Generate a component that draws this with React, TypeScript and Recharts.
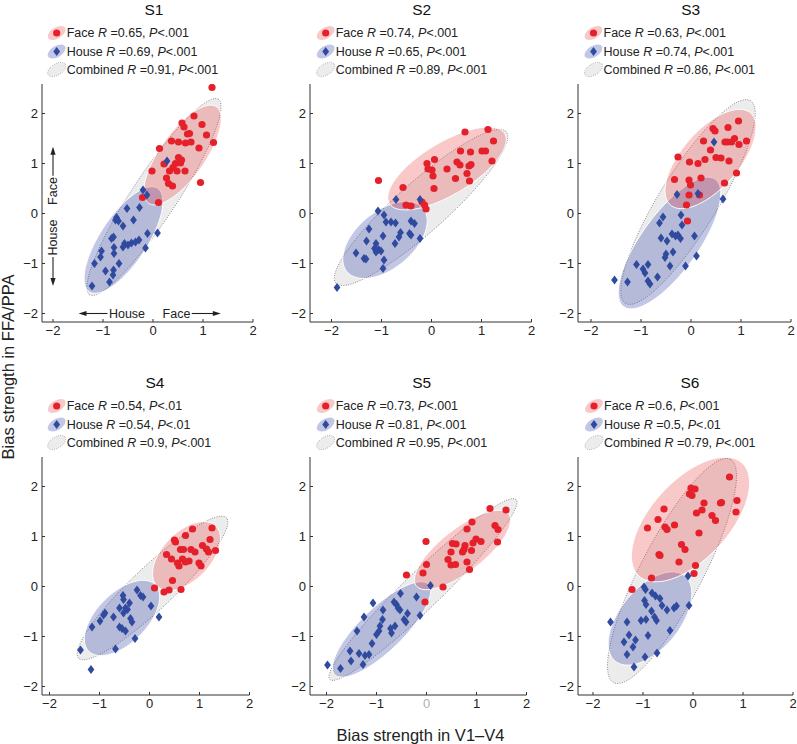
import React from "react";
import { Scatter, ScatterChart, XAxis, YAxis } from "recharts";

// Bias strength per block: [V1–V4, FFA/PPA]
const s1Face = [
  [1.18, 2.52], [0.82, 1.95], [0.58, 1.81], [0.62, 1.73], [0.98, 1.78], [0.73, 1.6], [0.69, 1.59],
  [0.37, 1.45], [0.51, 1.43], [0.65, 1.41], [0.76, 1.43], [1.07, 1.57], [1.21, 1.42], [0.92, 1.31],
  [0.13, 1.3], [0.51, 1.12], [0.55, 1.01], [0.22, 0.99], [0.4, 0.92], [0.33, 0.85], [0.48, 0.85],
  [0.64, 0.85], [-0.02, 0.85], [0.27, 0.71], [0.31, 0.6], [0.39, 0.55], [0.95, 0.62], [-0.21, 0.32],
  [0.11, 0.22], [0.57, 1.07], [0.45, 1.0]
];
const s1House = [
  [0.28, 1.05], [-0.2, 0.47], [-0.12, 0.37], [-0.52, 0.1], [-0.27, 0.12], [-0.73, -0.08], [-0.69, -0.15],
  [-0.75, -0.13], [-0.6, -0.25], [-0.39, -0.13], [-0.11, -0.4], [0.09, -0.39], [-0.83, -0.5], [-0.79, -0.47],
  [-0.57, -0.6], [-0.5, -0.63], [-0.43, -0.59], [-0.35, -0.57], [-0.28, -0.53], [-0.6, -0.67], [-0.78, -0.68],
  [-0.15, -0.69], [-1.03, -0.75], [-1.05, -0.87], [-0.78, -0.8], [-1.17, -1.0], [-0.68, -1.0], [-0.95, -1.15],
  [-0.79, -1.13], [-0.8, -1.23], [-0.87, -1.37], [-1.22, -1.45]
];
const s2Face = [
  [0.67, 1.63], [1.13, 1.68], [1.24, 1.45], [0.58, 1.25], [0.78, 1.23], [1.01, 1.25], [1.08, 1.25],
  [1.21, 1.05], [0.06, 1.08], [-0.09, 1.0], [0.51, 1.03], [0.57, 0.97], [0.79, 0.98], [0.75, 0.95],
  [0.31, 0.89], [-0.07, 0.89], [0.01, 0.87], [0.03, 0.75], [0.71, 0.8], [0.48, 0.7], [0.76, 0.65],
  [-1.06, 0.66], [0.05, 0.5], [-0.57, 0.52], [-0.51, 0.17], [-0.41, 0.15], [-0.19, 0.23], [-0.14, 0.17],
  [-0.11, 0.09]
];
const s2House = [
  [-0.71, 0.28], [-0.23, 0.28], [-1.07, 0.05], [-0.95, -0.03], [-0.81, -0.17], [-0.72, -0.19], [-0.41, -0.15],
  [-0.34, -0.2], [-1.25, -0.31], [-0.62, -0.38], [-0.97, -0.45], [-0.44, -0.4], [-0.41, -0.43], [-0.65, -0.47],
  [-1.3, -0.55], [-0.73, -0.6], [-0.23, -0.5], [-1.11, -0.6], [-1.14, -0.7], [-1.06, -0.72], [-1.01, -0.75],
  [-1.11, -0.77], [-1.51, -0.79], [-1.35, -0.9], [-1.31, -0.91], [-0.95, -0.93], [-0.97, -1.1], [-1.89, -1.48],
  [-0.91, -0.17]
];
const s3Face = [
  [0.95, 1.85], [0.74, 1.72], [0.44, 1.7], [0.48, 1.65], [0.87, 1.5], [0.68, 1.43], [0.73, 1.43],
  [0.81, 1.43], [0.96, 1.38], [1.11, 1.45], [0.25, 1.45], [0.39, 1.27], [0.5, 1.12], [0.6, 1.11],
  [0.76, 1.05], [-0.26, 1.13], [-0.03, 1.03], [0.14, 1.0], [0.28, 1.08], [0.91, 0.81], [0.2, 0.71],
  [-0.33, 0.68], [-0.04, 0.67], [-0.01, 0.57], [0.67, 0.61], [-0.04, 0.37], [0.17, 0.37], [-0.09, 0.17],
  [-0.07, -0.15]
];
const s3House = [
  [0.46, 1.43], [-0.28, 0.38], [0.14, 0.4], [0.64, 0.29], [-0.2, -0.03], [-0.56, -0.07], [-0.63, -0.19],
  [-0.18, -0.23], [-0.38, -0.41], [-0.31, -0.45], [-0.26, -0.43], [-0.21, -0.5], [0.07, -0.45], [-0.6, -0.49],
  [-0.48, -0.55], [-0.36, -0.77], [-0.5, -0.81], [-0.52, -0.88], [-0.42, -1.05], [-0.11, -1.05], [0.11, -0.85],
  [-1.09, -1.02], [-0.86, -1.02], [-0.96, -1.11], [-0.92, -1.19], [-0.67, -1.27], [-0.86, -1.35], [-0.82, -1.41],
  [-1.27, -1.37], [-1.53, -1.33]
];
const s4Face = [
  [0.86, 1.15], [1.25, 1.17], [0.72, 1.02], [0.5, 0.93], [0.52, 0.89], [1.21, 0.94], [1.06, 0.82],
  [0.62, 0.74], [0.68, 0.74], [0.83, 0.74], [0.91, 0.69], [1.14, 0.75], [1.18, 0.69], [1.32, 0.72],
  [0.34, 0.64], [0.44, 0.55], [0.66, 0.55], [0.72, 0.49], [0.79, 0.51], [0.56, 0.47], [0.59, 0.41],
  [0.99, 0.47], [1.03, 0.41], [0.46, 0.12], [0.1, -0.03], [0.29, -0.11], [0.39, -0.07], [0.63, -0.06]
];
const s4House = [
  [-0.25, -0.07], [-0.53, -0.18], [-0.18, -0.18], [-0.13, -0.21], [-0.52, -0.26], [-0.4, -0.33], [0.03, -0.39],
  [-0.6, -0.43], [-0.48, -0.43], [-0.44, -0.46], [-0.89, -0.53], [-0.92, -0.57], [-0.52, -0.53], [-0.72, -0.61],
  [-0.38, -0.64], [-0.35, -0.71], [-0.99, -0.69], [-0.6, -0.81], [-0.55, -0.84], [-0.48, -0.89], [-1.15, -0.81],
  [0.19, -0.61], [-0.29, -1.04], [-0.68, -1.25], [-1.38, -1.27], [-1.17, -1.66]
];
const s5Face = [
  [1.27, 1.56], [1.59, 1.53], [0.91, 1.29], [1.37, 1.22], [1.43, 1.14], [0.81, 1.15], [0.99, 0.95],
  [1.09, 0.9], [0.93, 0.87], [1.42, 0.89], [-0.01, 0.9], [0.52, 0.86], [0.59, 0.85], [0.77, 0.82],
  [0.75, 0.74], [0.9, 0.72], [0.72, 0.69], [0.49, 0.69], [0.43, 0.54], [0.81, 0.49], [0.49, 0.43],
  [0.58, 0.44], [0.86, 0.34], [0.0, 0.44], [-0.07, 0.27], [-0.4, 0.23], [0.33, -0.01], [-0.03, -0.31]
];
const s5House = [
  [0.08, 0.02], [-0.52, -0.14], [-0.2, -0.21], [-1.07, -0.33], [-0.65, -0.31], [-0.6, -0.36], [-0.57, -0.43],
  [-0.38, -0.54], [-0.87, -0.47], [-0.53, -0.47], [-0.13, -0.58], [-1.25, -0.61], [-0.88, -0.66], [-0.45, -0.66],
  [-0.41, -0.71], [-0.63, -0.79], [-0.93, -0.79], [-0.72, -0.84], [-0.7, -0.93], [-0.95, -0.89], [-1.0, -0.96],
  [-1.39, -0.89], [-1.09, -1.14], [-1.53, -1.29], [-1.35, -1.34], [-1.23, -1.38], [-1.15, -1.36], [-1.51, -1.49],
  [-1.27, -1.56], [-1.98, -1.57], [-1.72, -1.64]
];
const s6Face = [
  [0.73, 2.19], [-0.04, 1.97], [0.04, 1.95], [-0.07, 1.85], [-0.02, 1.82], [0.88, 1.72], [0.55, 1.67],
  [0.57, 1.68], [0.22, 1.67], [0.86, 1.49], [0.18, 1.53], [0.07, 1.47], [0.38, 1.42], [0.45, 1.32],
  [-0.58, 1.55], [-0.7, 1.34], [-0.37, 1.23], [-0.56, 1.19], [-0.52, 1.14], [-0.91, 1.17], [0.12, 1.07],
  [-0.23, 0.84], [-0.16, 0.74], [-0.68, 0.64], [-0.66, 0.62], [-0.28, 0.49], [0.05, 0.42], [0.02, 0.26],
  [-0.83, 0.17], [-1.22, -0.06]
];
const s6House = [
  [-0.1, 0.21], [-0.98, -0.01], [-0.95, -0.06], [-0.82, -0.13], [-0.75, -0.19], [-0.66, -0.24], [-0.97, -0.28],
  [-0.94, -0.36], [-0.62, -0.38], [-0.83, -0.49], [-0.52, -0.47], [-0.38, -0.43], [-0.33, -0.39], [-0.08, -0.38],
  [-0.77, -0.61], [-0.73, -0.68], [-1.04, -0.68], [-0.94, -0.66], [-1.32, -0.71], [-1.65, -0.71], [-0.46, -0.88],
  [-0.9, -0.98], [-1.28, -0.97], [-1.15, -1.07], [-1.38, -1.11], [-1.2, -1.21], [-1.32, -1.36], [-0.96, -1.41],
  [-0.72, -1.33], [-1.18, -1.61]
];

// fitted ellipses: [centre x, centre y, semi-major, semi-minor, angle°] for face, house, combined
const s1Ellipses = [[0.59, 1.17, 1.18, 0.45, 54.7], [-0.59, -0.53, 1.24, 0.47, 56.5], [0.02, 0.33, 2.34, 0.45, 56.6]];
const s2Ellipses = [[0.31, 0.9, 1.35, 0.52, 31.2], [-0.93, -0.53, 0.99, 0.57, 39.7], [-0.21, 0.12, 2.28, 0.5, 41.7]];
const s3Ellipses = [[0.39, 1.09, 1.22, 0.57, 48.9], [-0.43, -0.59, 1.57, 0.57, 54.3], [-0.06, 0.23, 2.38, 0.58, 58.3]];
const s4Ellipses = [[0.74, 0.61, 0.84, 0.48, 45.8], [-0.55, -0.63, 0.94, 0.5, 45], [0.06, -0.03, 2.04, 0.42, 43.5]];
const s5Ellipses = [[0.72, 0.73, 1.17, 0.43, 37.8], [-0.9, -0.86, 1.3, 0.43, 44], [-0.07, -0.06, 2.59, 0.37, 44]];
const s6Ellipses = [[-0.05, 1.34, 1.53, 0.78, 47.6], [-0.86, -0.64, 1.1, 0.6, 50.8], [-0.42, 0.31, 2.52, 0.62, 62.4]];

const titles = ["S1", "S2", "S3", "S4", "S5", "S6"];
const faceR = ["0.65", "0.74", "0.63", "0.54", "0.73", "0.6"];
const faceP = [".001", ".001", ".001", ".01", ".001", ".001"];
const houseR = ["0.69", "0.65", "0.74", "0.54", "0.81", "0.5"];
const houseP = [".001", ".001", ".001", ".01", ".001", ".01"];
const combinedR = ["0.91", "0.89", "0.86", "0.9", "0.95", "0.79"];
const combinedP = [".001", ".001", ".001", ".001", ".001", ".001"];
const ticks = [-2, -1, 0, 1, 2];

const FONT = '"Liberation Sans", Arial, Helvetica, sans-serif';
const FACE = "#e5202a";
const HOUSE = "#2f4a9e";
const PPU = 50;
const X_MAX = 2;
const Y_MIN = -2.17;
const Y_MAX = 2.59;
const Y_AXIS_W = 40;
const X_AXIS_H = 25;
const TOP_PAD = 10;

const frames = [
  { left: 41.7, top: 84, xMin: -2.22, titleX: 154, legendX: 66.7, row: 0 },
  { left: 310, top: 84, xMin: -2.43, titleX: 421.7, legendX: 335.7, row: 0 },
  { left: 578.3, top: 84, xMin: -2.26, titleX: 690.7, legendX: 603.5, row: 0 },
  { left: 41.7, top: 457.3, xMin: -2.15, titleX: 155, legendX: 66.7, row: 373 },
  { left: 310, top: 457.3, xMin: -2.33, titleX: 421.7, legendX: 335.7, row: 373 },
  { left: 578.3, top: 457.3, xMin: -2.3, titleX: 690, legendX: 604, row: 373 }
];

const faces = [s1Face, s2Face, s3Face, s4Face, s5Face, s6Face];
const houses = [s1House, s2House, s3House, s4House, s5House, s6House];
const ellipses = [s1Ellipses, s2Ellipses, s3Ellipses, s4Ellipses, s5Ellipses, s6Ellipses];

// direction arrows drawn only in S1
const s1Arrows = [
  { x: -2, y: 0.45, label: "Face", dir: "up" },
  { x: -2, y: -0.48, label: "House", dir: "down" },
  { x: -0.52, y: -2, label: "House", dir: "left" },
  { x: 0.47, y: -2, label: "Face", dir: "right" }
];

const toPoints = (pairs: number[][]) => pairs.map(([x, y]) => ({ x, y }));

function outline([cx, cy, a, b, deg]: number[]) {
  const t = (deg * Math.PI) / 180;
  const pts = [];
  for (let i = 0; i < 120; i += 1) {
    const s = (i / 120) * 2 * Math.PI;
    const ex = a * Math.cos(s);
    const ey = b * Math.sin(s);
    pts.push({ x: cx + ex * Math.cos(t) - ey * Math.sin(t), y: cy + ex * Math.sin(t) + ey * Math.cos(t) });
  }
  return pts;
}

const ellipseStyles = [
  { fill: "#e8262d", opacity: 0.25, stroke: "#ffffff", width: 1, dash: undefined },
  { fill: "#3246aa", opacity: 0.3, stroke: "#ffffff", width: 1, dash: undefined },
  { fill: "#ececec", opacity: 1, stroke: "#555555", width: 0.8, dash: "0.8 1.6" }
];

const closedPath = (style: any) => (props: any) => {
  const pts = props.points || [];
  const d = pts.map((p: any, i: number) => `${i ? "L" : "M"}${p.x},${p.y}`).join("") + "Z";
  return (
    <g>
      <path d={d} fill={style.fill} fillOpacity={style.opacity} stroke="none" />
      <path d={d} fill="none" stroke={style.stroke} strokeWidth={style.width} strokeDasharray={style.dash} />
    </g>
  );
};

const nothing = () => <g />;

const dot = (props: any) => <circle cx={props.cx} cy={props.cy} r={3.6} fill={FACE} />;

const diamond = (props: any) => {
  const { cx, cy } = props;
  return <path d={`M${cx},${cy - 4.4}L${cx + 3.4},${cy}L${cx},${cy + 4.4}L${cx - 3.4},${cy}Z`} fill={HOUSE} />;
};

const arrowMark = (props: any) => {
  const { cx, cy, payload } = props;
  const half = payload.label === "House" ? 17.5 : 13.3;
  const vertical = payload.dir === "up" || payload.dir === "down";
  const sign = payload.dir === "up" || payload.dir === "left" ? -1 : 1;
  const start = half + 2;
  const tip = half + 31;
  if (vertical) {
    const y0 = cy + sign * start;
    const y1 = cy + sign * tip;
    return (
      <g>
        <text x={cx} y={cy} transform={`rotate(-90 ${cx} ${cy})`} textAnchor="middle" dominantBaseline="central" fontSize={12.5} fill="#222" fontFamily={FONT}>
          {payload.label}
        </text>
        <line x1={cx} y1={y0} x2={cx} y2={y1 - sign * 6} stroke="#222" strokeWidth={1.1} />
        <path d={`M${cx},${y1}L${cx - 2.6},${y1 - sign * 8}L${cx + 2.6},${y1 - sign * 8}Z`} fill="#222" />
      </g>
    );
  }
  const x0 = cx + sign * start;
  const x1 = cx + sign * tip;
  return (
    <g>
      <text x={cx} y={cy} textAnchor="middle" dominantBaseline="central" fontSize={12.5} fill="#222" fontFamily={FONT}>
        {payload.label}
      </text>
      <line x1={x0} y1={cy} x2={x1 - sign * 6} y2={cy} stroke="#222" strokeWidth={1.1} />
      <path d={`M${x1},${cy}L${x1 - sign * 8},${cy - 2.6}L${x1 - sign * 8},${cy + 2.6}Z`} fill="#222" />
    </g>
  );
};

const minus = (v: number) => String(v).replace("-", "\u2212");

function Panel({ index }: { index: number }) {
  const frame = frames[index];
  const plotW = (X_MAX - frame.xMin) * PPU;
  const plotH = (Y_MAX - Y_MIN) * PPU;
  const width = Y_AXIS_W + plotW + 12;
  const height = TOP_PAD + plotH + X_AXIS_H + 4;
  const [faceE, houseE, combinedE] = ellipses[index];

  const xTick = (props: any) => {
    const v = props.payload.value;
    const grey = index === 4 && v === 0;
    return (
      <text x={props.x} y={props.y} dy="0.71em" textAnchor="middle" fontSize={13} fill={grey ? "#b0b0b0" : "#222"} fontFamily={FONT}>
        {minus(v)}
      </text>
    );
  };

  return (
    <div style={{ position: "absolute", left: frame.left - Y_AXIS_W, top: frame.top - TOP_PAD }}>
      <ScatterChart width={width} height={height} margin={{ top: TOP_PAD, right: 12, bottom: 4, left: 0 }}>
        <XAxis
          type="number"
          dataKey="x"
          domain={[frame.xMin, X_MAX]}
          allowDataOverflow
          ticks={ticks}
          interval={0}
          height={X_AXIS_H}
          tickSize={-3}
          tickMargin={7}
          tick={xTick}
          axisLine={{ stroke: "#333" }}
          tickLine={{ stroke: "#333" }}
        />
        <YAxis
          type="number"
          dataKey="y"
          domain={[Y_MIN, Y_MAX]}
          allowDataOverflow
          ticks={ticks}
          interval={0}
          width={Y_AXIS_W}
          tickSize={-3}
          tickMargin={7}
          tickFormatter={minus}
          tick={{ fontSize: 13, fill: "#222", fontFamily: FONT }}
          axisLine={{ stroke: "#333" }}
          tickLine={{ stroke: "#333" }}
        />
        <Scatter data={outline(combinedE)} shape={nothing} line={closedPath(ellipseStyles[2])} isAnimationActive={false} />
        <Scatter data={outline(houseE)} shape={nothing} line={closedPath(ellipseStyles[1])} isAnimationActive={false} />
        <Scatter data={outline(faceE)} shape={nothing} line={closedPath(ellipseStyles[0])} isAnimationActive={false} />
        <Scatter data={toPoints(faces[index])} shape={dot} isAnimationActive={false} />
        <Scatter data={toPoints(houses[index])} shape={diamond} isAnimationActive={false} />
        {index === 0 && <Scatter data={s1Arrows} shape={arrowMark} isAnimationActive={false} />}
      </ScatterChart>
    </div>
  );
}

function LegendBlock({ index }: { index: number }) {
  const f = frames[index];
  const x = f.legendX;
  const ix = x - 10;
  const rows = [33, 51.5, 69.5].map((y) => y + f.row);
  const label = (name: string, r: string, p: string, y: number) => (
    <text x={x} y={y} dominantBaseline="central" fontSize={12.5} fill="#222" fontFamily={FONT}>
      {name} <tspan fontStyle="italic">R</tspan>
      {" =" + r + ", "}
      <tspan fontStyle="italic">P</tspan>
      {"<" + p}
    </text>
  );
  return (
    <g>
      <ellipse cx={ix} cy={rows[0]} rx={10} ry={5.6} transform={`rotate(-32 ${ix} ${rows[0]})`} fill="#e8262d" fillOpacity={0.25} />
      <circle cx={ix} cy={rows[0]} r={3.6} fill={FACE} />
      <ellipse cx={ix} cy={rows[1]} rx={10} ry={5.6} transform={`rotate(-32 ${ix} ${rows[1]})`} fill="#3246aa" fillOpacity={0.3} />
      <path d={`M${ix},${rows[1] - 4.4}L${ix + 3.4},${rows[1]}L${ix},${rows[1] + 4.4}L${ix - 3.4},${rows[1]}Z`} fill={HOUSE} />
      <ellipse cx={ix} cy={rows[2]} rx={10} ry={5.6} transform={`rotate(-32 ${ix} ${rows[2]})`} fill="#ececec" stroke="#777" strokeWidth={0.7} strokeDasharray="0.7 1.5" />
      {label("Face", faceR[index], faceP[index], rows[0])}
      {label("House", houseR[index], houseP[index], rows[1])}
      {label("Combined", combinedR[index], combinedP[index], rows[2])}
    </g>
  );
}

export default function App() {
  return (
    <div style={{ position: "absolute", left: 0, top: 0, width: 797, height: 744, overflow: "hidden", background: "#fff", fontFamily: FONT }}>
      {frames.map((_, i) => (
        <Panel key={i} index={i} />
      ))}
      <svg width={797} height={744} style={{ position: "absolute", left: 0, top: 0, pointerEvents: "none" }}>
        {frames.map((f, i) => (
          <text key={"t" + i} x={f.titleX} y={9 + f.row} textAnchor="middle" dominantBaseline="central" fontSize={15.5} fill="#111" fontFamily={FONT}>
            {titles[i]}
          </text>
        ))}
        {frames.map((_, i) => (
          <LegendBlock key={"l" + i} index={i} />
        ))}
        <text x={8} y={367} transform="rotate(-90 8 367)" textAnchor="middle" dominantBaseline="central" fontSize={16.5} fill="#222" fontFamily={FONT}>
          Bias strength in FFA/PPA
        </text>
        <text x={420.5} y={735} textAnchor="middle" dominantBaseline="central" fontSize={16.5} fill="#222" fontFamily={FONT}>
          Bias strength in V1–V4
        </text>
      </svg>
    </div>
  );
}
